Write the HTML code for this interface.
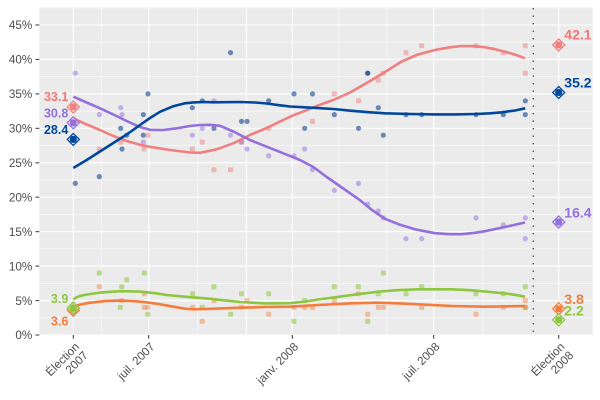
<!DOCTYPE html>
<html>
<head>
<meta charset="utf-8">
<style>
html,body{margin:0;padding:0;background:#fff;}
svg{display:block;}
text{font-family:"Liberation Sans",sans-serif;}
</style>
</head>
<body>
<svg width="600" height="400" viewBox="0 0 600 400" xmlns="http://www.w3.org/2000/svg">
<rect x="0" y="0" width="600" height="400" fill="#fff"/>
<!-- panel -->
<rect x="39.3" y="7" width="553.4" height="328" fill="#EBEBEB"/>
<!-- minor horizontal grid -->
<g stroke="#fff" stroke-width="0.55" opacity="0.9">
<line x1="39.3" x2="592.7" y1="317.8" y2="317.8"/>
<line x1="39.3" x2="592.7" y1="283.3" y2="283.3"/>
<line x1="39.3" x2="592.7" y1="248.9" y2="248.9"/>
<line x1="39.3" x2="592.7" y1="214.4" y2="214.4"/>
<line x1="39.3" x2="592.7" y1="180.0" y2="180.0"/>
<line x1="39.3" x2="592.7" y1="145.6" y2="145.6"/>
<line x1="39.3" x2="592.7" y1="111.1" y2="111.1"/>
<line x1="39.3" x2="592.7" y1="76.7" y2="76.7"/>
<line x1="39.3" x2="592.7" y1="42.2" y2="42.2"/>
<line x1="39.3" x2="592.7" y1="7.8" y2="7.8"/>
</g>
<!-- minor vertical grid -->
<g stroke="#fff" stroke-width="0.55" opacity="0.9">
<line x1="101.2" x2="101.2" y1="7" y2="335"/>
<line x1="197.5" x2="197.5" y1="7" y2="335"/>
<line x1="339" x2="339" y1="7" y2="335"/>
<line x1="387" x2="387" y1="7" y2="335"/>
<line x1="483" x2="483" y1="7" y2="335"/>
</g>
<!-- major grid -->
<g stroke="#fff" stroke-width="1.1">
<line x1="39.3" x2="592.7" y1="335" y2="335"/>
<line x1="39.3" x2="592.7" y1="300.6" y2="300.6"/>
<line x1="39.3" x2="592.7" y1="266.1" y2="266.1"/>
<line x1="39.3" x2="592.7" y1="231.7" y2="231.7"/>
<line x1="39.3" x2="592.7" y1="197.2" y2="197.2"/>
<line x1="39.3" x2="592.7" y1="162.8" y2="162.8"/>
<line x1="39.3" x2="592.7" y1="128.3" y2="128.3"/>
<line x1="39.3" x2="592.7" y1="93.9" y2="93.9"/>
<line x1="39.3" x2="592.7" y1="59.4" y2="59.4"/>
<line x1="39.3" x2="592.7" y1="25.0" y2="25.0"/>
<line x1="73.3" x2="73.3" y1="7" y2="335"/>
<line x1="148.7" x2="148.7" y1="7" y2="335"/>
<line x1="246.5" x2="246.5" y1="7" y2="335"/>
<line x1="292.3" x2="292.3" y1="7" y2="335"/>
<line x1="433.7" x2="433.7" y1="7" y2="335"/>
<line x1="558.7" x2="558.7" y1="7" y2="335"/>
</g>

<!-- blue points -->
<g fill="#1A4A90" fill-opacity="0.62">
<circle cx="75.3" cy="183.4" r="2.6"/><circle cx="99.3" cy="176.6" r="2.6"/>
<circle cx="120.7" cy="128.3" r="2.6"/><circle cx="122" cy="149.0" r="2.6"/>
<circle cx="126.7" cy="135.2" r="2.6"/><circle cx="143.3" cy="114.6" r="2.6"/>
<circle cx="143.3" cy="135.2" r="2.6"/><circle cx="148" cy="93.9" r="2.6"/>
<circle cx="192.3" cy="107.7" r="2.6"/><circle cx="202.3" cy="100.8" r="2.6"/>
<circle cx="214" cy="128.3" r="2.6"/><circle cx="230.5" cy="52.6" r="2.6"/>
<circle cx="241.5" cy="121.4" r="2.6"/><circle cx="247" cy="121.4" r="2.6"/>
<circle cx="268.7" cy="100.8" r="2.6"/><circle cx="294" cy="93.9" r="2.6"/>
<circle cx="304.7" cy="128.3" r="2.6"/><circle cx="312.5" cy="93.9" r="2.6"/>
<circle cx="334.3" cy="114.6" r="2.6"/><circle cx="358.5" cy="128.3" r="2.6"/>
<circle cx="367.7" cy="73.2" r="2.6"/><circle cx="367.7" cy="73.2" r="2.6"/>
<circle cx="378.3" cy="107.7" r="2.6"/><circle cx="383.3" cy="135.2" r="2.6"/>
<circle cx="406" cy="114.6" r="2.6"/><circle cx="421.7" cy="114.6" r="2.6"/>
<circle cx="476" cy="114.6" r="2.6"/><circle cx="503.3" cy="114.6" r="2.6"/>
<circle cx="525.3" cy="100.8" r="2.6"/><circle cx="525.3" cy="114.6" r="2.6"/>
</g>
<!-- pink points -->
<g fill="#F08080" fill-opacity="0.5">
<rect x="96.8" y="146.5" width="5" height="5" rx="1"/><rect x="118.2" y="139.6" width="5" height="5" rx="1"/>
<rect x="141.5" y="146.5" width="5" height="5" rx="1"/><rect x="145.5" y="132.7" width="5" height="5" rx="1"/>
<rect x="189.8" y="146.5" width="5" height="5" rx="1"/><rect x="199.8" y="139.6" width="5" height="5" rx="1"/>
<rect x="211.5" y="167.2" width="5" height="5" rx="1"/><rect x="228" y="167.2" width="5" height="5" rx="1"/>
<rect x="239" y="139.6" width="5" height="5" rx="1"/><rect x="266.2" y="125.8" width="5" height="5" rx="1"/>
<rect x="310" y="118.9" width="5" height="5" rx="1"/><rect x="331.8" y="91.4" width="5" height="5" rx="1"/>
<rect x="356" y="98.3" width="5" height="5" rx="1"/><rect x="375.8" y="77.6" width="5" height="5" rx="1"/>
<rect x="380.8" y="70.7" width="5" height="5" rx="1"/><rect x="403.5" y="50.1" width="5" height="5" rx="1"/>
<rect x="419.2" y="43.2" width="5" height="5" rx="1"/><rect x="473.5" y="43.2" width="5" height="5" rx="1"/>
<rect x="500.8" y="50.1" width="5" height="5" rx="1"/><rect x="522.8" y="43.2" width="5" height="5" rx="1"/>
<rect x="522.8" y="70.7" width="5" height="5" rx="1"/>
</g>
<!-- purple points -->
<g fill="#9370DB" fill-opacity="0.5">
<circle cx="75.3" cy="73.2" r="2.6"/><circle cx="99.3" cy="114.6" r="2.6"/>
<circle cx="120.7" cy="107.7" r="2.6"/><circle cx="122" cy="114.6" r="2.6"/>
<circle cx="143.3" cy="142.1" r="2.6"/><circle cx="192.3" cy="135.2" r="2.6"/>
<circle cx="202.3" cy="128.3" r="2.6"/><circle cx="214" cy="100.8" r="2.6"/>
<circle cx="230.5" cy="135.2" r="2.6"/><circle cx="241.5" cy="142.1" r="2.6"/>
<circle cx="247" cy="149.0" r="2.6"/><circle cx="268.7" cy="155.9" r="2.6"/>
<circle cx="294" cy="155.9" r="2.6"/><circle cx="304.7" cy="149.0" r="2.6"/>
<circle cx="312.5" cy="169.7" r="2.6"/><circle cx="334.3" cy="190.3" r="2.6"/>
<circle cx="358.5" cy="183.4" r="2.6"/><circle cx="367.7" cy="204.1" r="2.6"/>
<circle cx="378.3" cy="211.0" r="2.6"/><circle cx="383.3" cy="217.9" r="2.6"/>
<circle cx="406" cy="238.6" r="2.6"/><circle cx="421.7" cy="238.6" r="2.6"/>
<circle cx="476" cy="217.9" r="2.6"/><circle cx="503.3" cy="224.8" r="2.6"/>
<circle cx="525.3" cy="217.9" r="2.6"/><circle cx="525.3" cy="238.6" r="2.6"/>
</g>
<!-- green points -->
<g fill="#8DC63F" fill-opacity="0.55">
<rect x="96.8" y="270.5" width="5" height="5" rx="1"/><rect x="117.8" y="304.9" width="5" height="5" rx="1"/>
<rect x="119.2" y="284.3" width="5" height="5" rx="1"/><rect x="124.2" y="277.4" width="5" height="5" rx="1"/>
<rect x="141.8" y="270.5" width="5" height="5" rx="1"/><rect x="145.2" y="311.8" width="5" height="5" rx="1"/>
<rect x="190.2" y="291.2" width="5" height="5" rx="1"/><rect x="199.8" y="304.9" width="5" height="5" rx="1"/>
<rect x="211.5" y="284.3" width="5" height="5" rx="1"/><rect x="228.2" y="311.8" width="5" height="5" rx="1"/>
<rect x="239" y="291.2" width="5" height="5" rx="1"/><rect x="266.2" y="291.2" width="5" height="5" rx="1"/>
<rect x="291.5" y="318.7" width="5" height="5" rx="1"/><rect x="302.2" y="298.1" width="5" height="5" rx="1"/>
<rect x="331.8" y="284.3" width="5" height="5" rx="1"/><rect x="355.8" y="284.3" width="5" height="5" rx="1"/>
<rect x="365.2" y="318.7" width="5" height="5" rx="1"/><rect x="375.8" y="291.2" width="5" height="5" rx="1"/>
<rect x="380.8" y="270.5" width="5" height="5" rx="1"/><rect x="403.5" y="291.2" width="5" height="5" rx="1"/>
<rect x="419.2" y="284.3" width="5" height="5" rx="1"/><rect x="473.5" y="291.2" width="5" height="5" rx="1"/>
<rect x="500.8" y="291.2" width="5" height="5" rx="1"/><rect x="522.8" y="284.3" width="5" height="5" rx="1"/>
<rect x="522.8" y="304.9" width="5" height="5" rx="1"/>
</g>
<!-- orange points -->
<g fill="#F47C3C" fill-opacity="0.45">
<rect x="96.8" y="284.3" width="5" height="5" rx="1"/><rect x="119.2" y="298.1" width="5" height="5" rx="1"/>
<rect x="141.8" y="291.2" width="5" height="5" rx="1"/><rect x="141.8" y="304.9" width="5" height="5" rx="1"/>
<rect x="145.2" y="304.9" width="5" height="5" rx="1"/><rect x="190.2" y="304.9" width="5" height="5" rx="1"/>
<rect x="199.8" y="318.7" width="5" height="5" rx="1"/><rect x="211.5" y="298.1" width="5" height="5" rx="1"/>
<rect x="239" y="304.9" width="5" height="5" rx="1"/><rect x="244.5" y="298.1" width="5" height="5" rx="1"/>
<rect x="266.2" y="311.8" width="5" height="5" rx="1"/><rect x="291.5" y="304.9" width="5" height="5" rx="1"/>
<rect x="302.2" y="304.9" width="5" height="5" rx="1"/><rect x="310" y="304.9" width="5" height="5" rx="1"/>
<rect x="331.8" y="298.1" width="5" height="5" rx="1"/><rect x="355.8" y="291.2" width="5" height="5" rx="1"/>
<rect x="365.2" y="311.8" width="5" height="5" rx="1"/><rect x="375.8" y="304.9" width="5" height="5" rx="1"/>
<rect x="380.8" y="304.9" width="5" height="5" rx="1"/><rect x="419.2" y="304.9" width="5" height="5" rx="1"/>
<rect x="473.5" y="311.8" width="5" height="5" rx="1"/><rect x="500.8" y="304.9" width="5" height="5" rx="1"/>
<rect x="522.8" y="298.1" width="5" height="5" rx="1"/><rect x="522.8" y="304.9" width="5" height="5" rx="1"/>
</g>

<!-- smooth lines -->
<g fill="none" stroke-width="2.6" stroke-linejoin="round" stroke-linecap="butt">
<polyline stroke="#F08080" points="73.3,118.3 86.7,124.5 100,130 113.3,136 126.7,141 140,144.8 150,146.8 170,150 190,152.5 200,152.8 216.7,149.3 233.3,143.3 250,135 266.7,128 280,121.5 293.3,115.3 305,110.8 316.7,106 333.3,100 350,92.5 366.7,83 386.7,71 401.7,61.5 418,54.5 435,50 450,47.3 461.7,46 475,46.2 485,47.3 495,49.2 505,51.7 515,54.6 525,58.3"/>
<polyline stroke="#9370DB" points="73.3,96.7 86.7,102.5 100,108.3 113.3,114.5 126.7,121 140,127 150,129.8 163,130 176.7,128.3 190,126 200,125 210,124.8 220,125.8 233.3,131.5 250,140 266.7,146.7 283.3,153.3 300,160 313.3,167 326.7,177 343.3,188.5 360,200.2 372,210 385,218.8 400,224.8 415,229.3 435,233.2 450,234.2 461.7,234.2 475,232.8 485,231.2 505,227 525,222.5"/>
<polyline stroke="#00479B" points="73.3,168 86.7,160 100,151.5 113.3,143 126.7,134.5 140,125 150,118 160,111.8 173.3,106.2 185,103.3 193.3,102.4 205,102 213.3,102.3 240,102 255,102.5 266.7,103.5 280,105.3 290,106.5 311.7,107.7 333.3,109 351.7,110.8 370,112.3 385,113.3 410,114 435,114.4 455,114.4 476,114 490,113.3 501.7,112.3 515,110.5 525.3,108.3"/>
<polyline stroke="#8DC63F" points="73.3,299.5 76,297.5 80,296 86.7,294.5 100,292.6 120,291.2 140,291.6 155,293.2 166.7,295 190,297.2 206.7,298.4 225,300.4 240,302 265,303.4 290,303.2 305,301.5 318.3,299.5 335,297.3 351.7,295 378.3,291.7 400,290 418.3,289.3 451.7,289.3 470,290.2 485,291.5 505,293.4 515,294.8 525,296.7"/>
<polyline stroke="#F47C3C" points="73.3,306.8 80,304.6 90,302.7 105,301.1 120,300.6 135,301.2 146.7,302.3 160,304.3 173.3,306.7 185,308.7 193.3,309.3 215,308.7 240,307.7 265,307 290,306.7 318.3,305 351.7,303.3 378.3,302.7 400,303.4 418.3,304.3 451.7,306 485,306.7 505,306.4 525,306"/>
</g>

<!-- dotted vline -->
<line x1="533.3" x2="533.3" y1="8" y2="335" stroke="#555" stroke-width="1.5" stroke-dasharray="1.4 6.1"/>

<!-- election markers -->
<g stroke-width="1.3">
<polygon points="73.3,101 79.3,107 73.3,113 67.3,107" fill="#fff" fill-opacity="0.8" stroke="#F08080"/>
<circle cx="73.3" cy="107" r="3.6" fill="#F08080"/>
<polygon points="73.3,116.8 79.3,122.8 73.3,128.8 67.3,122.8" fill="#fff" fill-opacity="0.8" stroke="#9370DB"/>
<circle cx="73.3" cy="122.8" r="3.6" fill="#9370DB"/>
<polygon points="73.3,133.4 79.3,139.4 73.3,145.4 67.3,139.4" fill="#fff" fill-opacity="0.9" stroke="#00479B"/>
<circle cx="73.3" cy="139.4" r="3.6" fill="#00479B"/>
<polygon points="73.3,304.2 79.3,310.2 73.3,316.2 67.3,310.2" fill="#fff" fill-opacity="0.8" stroke="#F47C3C"/>
<circle cx="73.3" cy="310.2" r="3.6" fill="#F47C3C"/>
<polygon points="73.3,302.1 79.3,308.1 73.3,314.1 67.3,308.1" fill="#fff" fill-opacity="0.5" stroke="#8DC63F"/>
<circle cx="73.3" cy="308.1" r="3.6" fill="#8DC63F"/>

<polygon points="558.7,39 564.7,45 558.7,51 552.7,45" fill="#fff" fill-opacity="0.8" stroke="#F08080"/>
<circle cx="558.7" cy="45" r="3.6" fill="#F08080"/>
<polygon points="558.7,86.5 564.7,92.5 558.7,98.5 552.7,92.5" fill="#fff" fill-opacity="0.9" stroke="#00479B"/>
<circle cx="558.7" cy="92.5" r="3.6" fill="#00479B"/>
<polygon points="558.7,216 564.7,222 558.7,228 552.7,222" fill="#fff" fill-opacity="0.8" stroke="#9370DB"/>
<circle cx="558.7" cy="222" r="3.6" fill="#9370DB"/>
<polygon points="558.7,302.8 564.7,308.8 558.7,314.8 552.7,308.8" fill="#fff" fill-opacity="0.8" stroke="#F47C3C"/>
<circle cx="558.7" cy="308.8" r="3.6" fill="#F47C3C"/>
<polygon points="558.7,313.8 564.7,319.8 558.7,325.8 552.7,319.8" fill="#fff" fill-opacity="0.8" stroke="#8DC63F"/>
<circle cx="558.7" cy="319.8" r="3.6" fill="#8DC63F"/>
</g>

<!-- value labels -->
<g font-weight="bold" font-size="12.5" text-anchor="end">
<text x="68.3" y="101" fill="#F07878">33.1</text>
<text x="68.3" y="117.3" fill="#9370DB">30.8</text>
<text x="68.3" y="134" fill="#00479B">28.4</text>
<text x="68.3" y="303" fill="#8DC63F">3.9</text>
<text x="68.3" y="325.7" fill="#F47C3C">3.6</text>
</g>
<g font-weight="bold" font-size="14" text-anchor="start">
<text x="564.3" y="39.3" fill="#F07878">42.1</text>
<text x="564.3" y="87.3" fill="#00479B">35.2</text>
<text x="564.3" y="217.3" fill="#9370DB">16.4</text>
<text x="564.3" y="304" fill="#F47C3C">3.8</text>
<text x="564.3" y="315.7" fill="#8DC63F">2.2</text>
</g>

<!-- y axis -->
<g stroke="#333" stroke-width="1">
<line x1="35.5" x2="39.3" y1="335" y2="335"/>
<line x1="35.5" x2="39.3" y1="300.6" y2="300.6"/>
<line x1="35.5" x2="39.3" y1="266.1" y2="266.1"/>
<line x1="35.5" x2="39.3" y1="231.7" y2="231.7"/>
<line x1="35.5" x2="39.3" y1="197.2" y2="197.2"/>
<line x1="35.5" x2="39.3" y1="162.8" y2="162.8"/>
<line x1="35.5" x2="39.3" y1="128.3" y2="128.3"/>
<line x1="35.5" x2="39.3" y1="93.9" y2="93.9"/>
<line x1="35.5" x2="39.3" y1="59.4" y2="59.4"/>
<line x1="35.5" x2="39.3" y1="25.0" y2="25.0"/>
</g>
<g font-size="11.7" fill="#4D4D4D" text-anchor="end">
<text x="32.3" y="339.2">0%</text>
<text x="32.3" y="304.8">5%</text>
<text x="32.3" y="270.3">10%</text>
<text x="32.3" y="235.9">15%</text>
<text x="32.3" y="201.4">20%</text>
<text x="32.3" y="167.0">25%</text>
<text x="32.3" y="132.5">30%</text>
<text x="32.3" y="98.1">35%</text>
<text x="32.3" y="63.6">40%</text>
<text x="32.3" y="29.2">45%</text>
</g>

<!-- x axis -->
<g stroke="#333" stroke-width="1">
<line x1="73.3" x2="73.3" y1="335" y2="338.7"/>
<line x1="148.7" x2="148.7" y1="335" y2="338.7"/>
<line x1="292.3" x2="292.3" y1="335" y2="338.7"/>
<line x1="433.7" x2="433.7" y1="335" y2="338.7"/>
<line x1="558.7" x2="558.7" y1="335" y2="338.7"/>
</g>
<g font-size="11.7" fill="#4D4D4D" text-anchor="end">
<g transform="translate(73.6,341) rotate(-45)"><text x="0" y="9">Élection</text><text x="0" y="21.3">2007</text></g>
<g transform="translate(149,341) rotate(-45)"><text x="0" y="9">juil. 2007</text></g>
<g transform="translate(292.6,341) rotate(-45)"><text x="0" y="9">janv. 2008</text></g>
<g transform="translate(434,341) rotate(-45)"><text x="0" y="9">juil. 2008</text></g>
<g transform="translate(559,341) rotate(-45)"><text x="0" y="9">Élection</text><text x="0" y="21.3">2008</text></g>
</g>
</svg>
</body>
</html>
